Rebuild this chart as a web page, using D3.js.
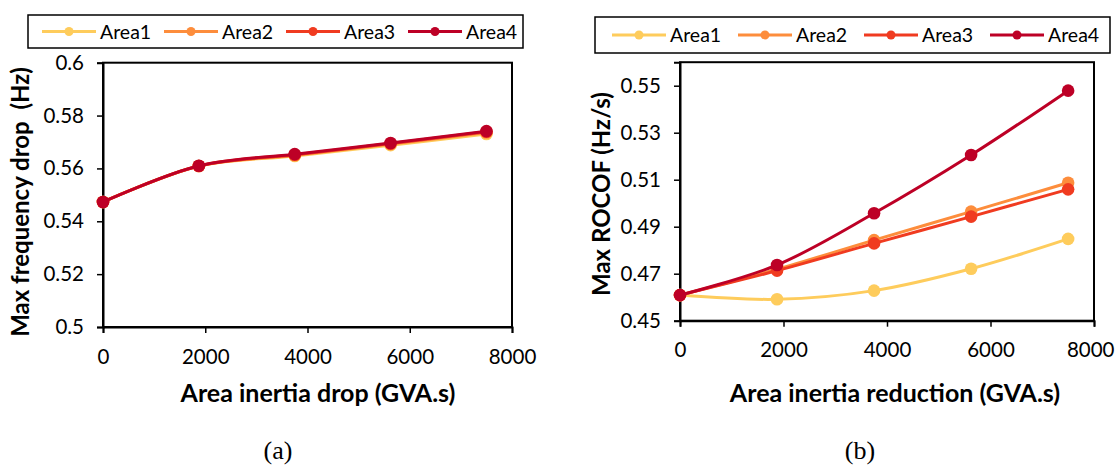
<!DOCTYPE html>
<html>
<head>
<meta charset="utf-8">
<script src="https://cdn.jsdelivr.net/npm/d3@7"></script>
<style>
  body { margin: 0; background: #fff; }
  svg { display: block; }
  text { font-family: Lato, "Open Sans", sans-serif; fill: #000; }
</style>
</head>
<body>
<div id="viz-container"></div>
<script>
const width = 1115, height = 467;

// données
const seriesNames = ["Area1", "Area2", "Area3", "Area4"];
const colors = ["#fecc5c", "#fd8d3c", "#f03b20", "#bd0026"];
const inertia = [0, 1875, 3750, 5625, 7500];

const freqArea1 = [0.5473, 0.5609, 0.5647, 0.5688, 0.5730];
const freqArea2 = [0.5473, 0.5609, 0.5650, 0.5692, 0.5736];
const freqArea3 = [0.5473, 0.5609, 0.5652, 0.5694, 0.5739];
const freqArea4 = [0.5473, 0.5610, 0.5654, 0.5696, 0.5741];

const rocofArea1 = [0.4609, 0.4591, 0.4628, 0.4721, 0.4848];
const rocofArea2 = [0.4609, 0.4719, 0.4843, 0.4964, 0.5087];
const rocofArea3 = [0.4609, 0.4713, 0.4829, 0.4943, 0.5059];
const rocofArea4 = [0.4609, 0.4737, 0.4957, 0.5205, 0.5479];

const xTicks = [0, 2000, 4000, 6000, 8000];
const freqTicks = [0.5, 0.52, 0.54, 0.56, 0.58, 0.6];
const rocofTicks = [0.45, 0.47, 0.49, 0.51, 0.53, 0.55];

const svg = d3.select("#viz-container")
  .append("svg")
  .attr("width", width)
  .attr("height", height);

svg.append("rect").attr("width", width).attr("height", height).attr("fill", "#fff");

function drawPanel(p) {
  const g = svg.append("g");

  const x = d3.scaleLinear().domain([0, 8000]).range([p.left, p.right]);
  const y = d3.scaleLinear().domain(p.yDomain).range([p.bottom, p.top]);

  // cadre
  g.append("rect")
    .attr("x", p.left).attr("y", p.top)
    .attr("width", p.right - p.left).attr("height", p.bottom - p.top)
    .attr("fill", "none").attr("stroke", "#000").attr("stroke-width", 2);

  // axes
  const xAxis = g.append("g")
    .attr("transform", `translate(0,${p.bottom})`)
    .call(d3.axisBottom(x).tickValues(xTicks).tickSize(6).tickPadding(16).tickFormat(d3.format("d")));
  const yAxis = g.append("g")
    .attr("transform", `translate(${p.left},0)`)
    .call(d3.axisLeft(y).tickValues(p.yTicks).tickSize(6).tickPadding(13).tickFormat(d3.format("~g")));

  [xAxis, yAxis].forEach(a => {
    a.select(".domain").attr("stroke", "#000").attr("stroke-width", 2);
    a.selectAll(".tick line").attr("stroke", "#000").attr("stroke-width", 1.5);
    a.selectAll(".tick text").attr("fill", "#000").style("font-size", "20.5px").style("font-family", "Lato, sans-serif");
  });

  // garder le dernier label dans la fenêtre
  xAxis.selectAll(".tick text").each(function(d) {
    const w = this.getComputedTextLength();
    const over = x(d) + w / 2 - (width - 1);
    if (over > 0) d3.select(this).attr("dx", -over);
  });

  // courbes
  const line = d3.line()
    .x((d, i) => x(inertia[i]))
    .y(d => y(d))
    .curve(d3.curveCatmullRom);

  p.series.forEach((vals, k) => {
    g.append("path")
      .datum(vals)
      .attr("d", line)
      .attr("fill", "none")
      .attr("stroke", colors[k])
      .attr("stroke-width", 3);
    g.selectAll(null)
      .data(vals)
      .join("circle")
      .attr("cx", (d, i) => x(inertia[i]))
      .attr("cy", d => y(d))
      .attr("r", 6.3)
      .attr("fill", colors[k]);
  });

  // titres des axes
  g.append("text")
    .attr("x", p.xTitleX).attr("y", 402)
    .attr("text-anchor", "middle")
    .style("font-size", "25px").style("font-weight", "bold")
    .text(p.xTitle);
  g.append("text")
    .attr("transform", `translate(${p.yTitleX},${p.yTitleY}) rotate(-90)`)
    .attr("text-anchor", "middle")
    .style("font-size", "24px").style("font-weight", "bold")
    .style("white-space", "pre")
    .text(p.yTitle);

  // légende
  const leg = g.append("g");
  leg.append("rect")
    .attr("x", p.legend.x0).attr("y", p.legend.y0)
    .attr("width", p.legend.x1 - p.legend.x0).attr("height", p.legend.y1 - p.legend.y0)
    .attr("fill", "#fff").attr("stroke", "#000").attr("stroke-width", 1.5);
  const cy = (p.legend.y0 + p.legend.y1) / 2;
  seriesNames.forEach((name, k) => {
    const lx = p.legend.first + k * p.legend.step;
    leg.append("line")
      .attr("x1", lx).attr("x2", lx + 54)
      .attr("y1", cy).attr("y2", cy)
      .attr("stroke", colors[k]).attr("stroke-width", 3);
    leg.append("circle")
      .attr("cx", lx + 27).attr("cy", cy).attr("r", 4.5)
      .attr("fill", colors[k]);
    leg.append("text")
      .attr("x", lx + 58).attr("y", cy + 7)
      .style("font-size", "19.5px")
      .text(name);
  });

  // légende (a)/(b)
  g.append("text")
    .attr("x", p.capX).attr("y", 459)
    .attr("text-anchor", "middle")
    .style("font-family", "'Liberation Serif', 'DejaVu Serif', serif")
    .style("font-size", "26px")
    .text(p.caption);
}

drawPanel({
  left: 103, right: 512, top: 62.7, bottom: 327,
  yDomain: [0.5, 0.6], yTicks: freqTicks,
  series: [freqArea1, freqArea2, freqArea3, freqArea4],
  xTitle: "Area inertia drop (GVA.s)", xTitleX: 318,
  yTitle: "Max frequency drop  (Hz)", yTitleX: 29, yTitleY: 202,
  legend: { x0: 28, y0: 15, x1: 523, y1: 48, first: 42, step: 122 },
  capX: 278, caption: "(a)"
});

drawPanel({
  left: 680, right: 1094, top: 62.2, bottom: 320.7,
  yDomain: [0.45, 0.56], yTicks: rocofTicks,
  series: [rocofArea1, rocofArea2, rocofArea3, rocofArea4],
  xTitle: "Area inertia reduction (GVA.s)", xTitleX: 895,
  yTitle: "Max ROCOF (Hz/s)", yTitleX: 610, yTitleY: 194,
  legend: { x0: 595, y0: 17, x1: 1110, y1: 53, first: 612, step: 126 },
  capX: 860, caption: "(b)"
});
</script>
</body>
</html>
